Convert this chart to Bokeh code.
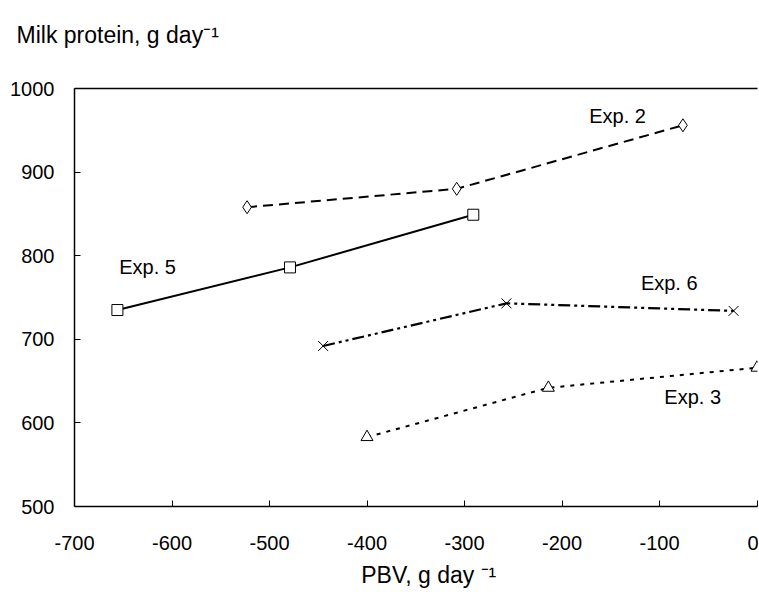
from bokeh.plotting import figure
from bokeh.models import Label, LinearAxis, Range1d, FixedTicker, PrintfTickFormatter, Title
from bokeh.embed import file_html
from bokeh.resources import INLINE

# Data
exp2_x = [-523, -308, -76]
exp2_y = [858, 880, 956]

exp5_x = [-656, -479, -291]
exp5_y = [735, 786, 849]

exp6_x = [-445, -257, -24]
exp6_y = [692, 743, 734]

exp3_x = [-400, -214, 0]
exp3_y = [583, 642, 666]

x_ticks = [-700, -600, -500, -400, -300, -200, -100, 0]
y_ticks = [500, 600, 700, 800, 900, 1000]

FONT = "Liberation Sans"

p = figure(width=758, height=590, output_backend="svg", toolbar_location=None,
           x_range=Range1d(-700, 0.5), y_range=Range1d(500, 1000),
           min_border_left=74, min_border_top=88, min_border_bottom=83, min_border_right=1)
p.outline_line_color = None
p.xgrid.visible = False
p.ygrid.visible = False
p.background_fill_color = "white"
p.border_fill_color = "white"

for ax in (p.xaxis[0], p.yaxis[0]):
    ax.axis_line_color = "black"
    ax.axis_line_width = 1.5
    ax.major_tick_line_color = "black"
    ax.major_tick_in = 6
    ax.major_tick_out = 0
    ax.minor_tick_line_color = None
    ax.major_label_text_font = FONT
    ax.major_label_text_font_size = "20px"
    ax.major_label_text_color = "black"
    ax.formatter = PrintfTickFormatter(format="%d")

p.xaxis[0].ticker = FixedTicker(ticks=x_ticks)
p.yaxis[0].ticker = FixedTicker(ticks=y_ticks)
p.xaxis[0].major_label_standoff = 29
p.yaxis[0].major_label_standoff = 20

p.xaxis[0].axis_label = "\u00a0\u00a0\u00a0\u00a0PBV, g day \u207b\u00b9"
p.xaxis[0].axis_label_text_font = FONT
p.xaxis[0].axis_label_text_font_size = "23px"
p.xaxis[0].axis_label_text_font_style = "normal"
p.xaxis[0].axis_label_text_color = "black"
p.xaxis[0].axis_label_standoff = 9

top = LinearAxis(ticker=FixedTicker(ticks=[]), major_label_text_font_size="0px",
                 axis_line_color="black", axis_line_width=1.5,
                 major_tick_line_color=None, minor_tick_line_color=None)
p.add_layout(top, "above")

p.add_layout(Title(text="Milk protein, g day\u207b\u00b9\n\u00a0", align="left", offset=-58, standoff=30,
                   text_font=FONT, text_font_size="23px", text_font_style="normal",
                   text_color="black"), "above")

# Series
p.line(exp2_x, exp2_y, line_color="black", line_width=2, line_dash="10 6")
p.scatter(exp2_x, exp2_y, marker="diamond", size=13, fill_color="white", line_color="black", line_width=1)

p.line(exp5_x, exp5_y, line_color="black", line_width=2)
p.scatter(exp5_x, exp5_y, marker="square", size=11, fill_color="white", line_color="black", line_width=1)

p.line(exp6_x, exp6_y, line_color="black", line_width=2.2, line_dash="12 4 3 4 3 4")
p.scatter(exp6_x, exp6_y, marker="x", size=14, line_color="black", line_width=1)

p.line(exp3_x, exp3_y, line_color="black", line_width=2, line_dash="4 6")
p.scatter(exp3_x, exp3_y, marker="triangle", size=12, fill_color="white", line_color="black", line_width=1)

# Series labels
labels = [("Exp. 2", -143, 967), ("Exp. 5", -625, 786), ("Exp. 6", -90, 767), ("Exp. 3", -66, 631)]
for t, lx, ly in labels:
    p.add_layout(Label(x=lx, y=ly, text=t, text_align="center", text_baseline="middle",
                       text_font=FONT, text_font_size="20px", text_color="black"))

open("out.html", "w").write(file_html(p, INLINE))
